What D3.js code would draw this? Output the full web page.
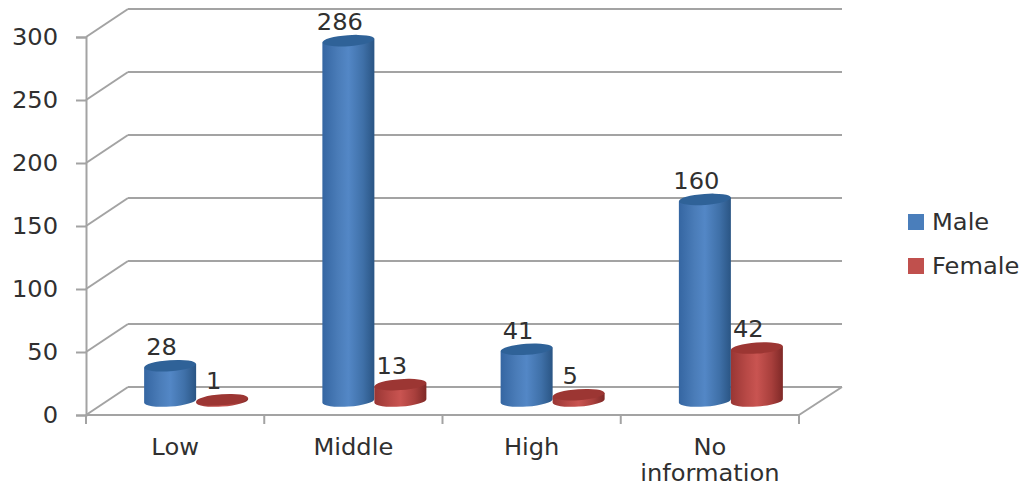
<!DOCTYPE html>
<html>
<head>
<meta charset="utf-8">
<script src="https://cdn.jsdelivr.net/npm/d3@7/dist/d3.min.js"></script>
<style>
  html, body { margin: 0; padding: 0; background: #fff; }
  svg { display: block; }
  text { font-family: "DejaVu Sans", sans-serif; fill: #303030; }
</style>
</head>
<body>
<svg id="chart" width="1022" height="487"></svg>
<script>
const categories = ["Low", "Middle", "High", "No information"];
const seriesNames = ["Male", "Female"];
const maleValues = [28, 286, 41, 160];
const femaleValues = [1, 13, 5, 42];
const yTicks = [0, 50, 100, 150, 200, 250, 300];

const svg = d3.select("#chart");
const gridColor = "#a3a3a3";
const fontSize = 23;
const textWiden = 1.05;

// Front plane of the 3-D box and the depth offset to its back wall.
const plotLeft = 86, plotRight = 799, plotBottom = 415, plotTop = 37;
const depthX = 42, depthY = -28;

const y = d3.scaleLinear().domain([0, 300]).range([plotBottom, plotTop]);
const x = d3.scaleBand().domain(categories).range([plotLeft, plotRight]);
const inner = d3.scaleBand().domain(seriesNames).range([0, 104]);

// Cylinder gradients, dark at the edges and light through the middle.
const defs = svg.append("defs");
const palettes = {
  Male: { stops: ["#3566a2", "#4a7cb8", "#5387c6", "#3f70a8", "#2a5584"], cap: "#2f6298", swatch: "#4a7ebb" },
  Female: { stops: ["#993634", "#b84946", "#c95451", "#a83f3c", "#7f2927"], cap: "#9c3633", swatch: "#c0504d" }
};
seriesNames.forEach(name => {
  const g = defs.append("linearGradient").attr("id", "grad-" + name);
  palettes[name].stops.forEach((c, i) => {
    g.append("stop").attr("offset", [0, 0.3, 0.5, 0.78, 1][i]).attr("stop-color", c);
  });
});

// Back wall gridlines, side wall diagonals and the floor.
const walls = svg.append("g").attr("fill", "none").attr("stroke", gridColor).attr("stroke-width", 2);
walls.selectAll(".grid").data(yTicks).join("line").attr("class", "grid")
  .attr("x1", plotLeft + depthX).attr("x2", plotRight + depthX + 1)
  .attr("y1", d => y(d) + depthY).attr("y2", d => y(d) + depthY);
walls.selectAll(".side").data(yTicks).join("line").attr("class", "side")
  .attr("x1", plotLeft).attr("x2", plotLeft + depthX)
  .attr("y1", d => y(d)).attr("y2", d => y(d) + depthY);
walls.append("line")
  .attr("x1", plotRight).attr("y1", plotBottom)
  .attr("x2", plotRight + depthX + 1).attr("y2", plotBottom + depthY);

// Value axis
const yAxis = svg.append("g").attr("transform", `translate(${plotLeft},0)`)
  .call(d3.axisLeft(y).tickValues(yTicks).tickSize(10).tickPadding(18));
yAxis.selectAll("path, line").attr("stroke", gridColor).attr("stroke-width", 2);
yAxis.selectAll("text").attr("font-size", fontSize).attr("font-family", '"DejaVu Sans", sans-serif').attr("dy", "0.34em");

// Category axis: ticks fall on the band boundaries, labels in the band centres.
const xAxis = svg.append("g").attr("transform", `translate(0,${plotBottom})`)
  .call(d3.axisBottom(x).tickSize(0).tickPadding(0));
xAxis.select("path").attr("stroke", gridColor).attr("stroke-width", 2).attr("d", `M${plotLeft},0H${plotRight}`);
xAxis.selectAll(".tick text")
  .attr("font-size", fontSize).attr("font-family", '"DejaVu Sans", sans-serif').attr("dy", null)
  .each(function (d) {
    const words = d.length > 8 ? d.split(" ") : [d];
    const t = d3.select(this).text(null).attr("y", 0);
    words.forEach((w, i) => t.append("tspan").attr("x", 0).attr("y", 40 + i * 26).text(w));
  });
xAxis.selectAll(".tick line").remove();
const boundaries = categories.map(c => x(c)).concat([plotRight]);
xAxis.selectAll(".boundary").data(boundaries).join("line").attr("class", "boundary")
  .attr("x1", d => d).attr("x2", d => d).attr("y1", 0).attr("y2", 9)
  .attr("stroke", gridColor).attr("stroke-width", 2);

// Cylinders stand on the mid-depth plane of the floor.
const rx = inner.bandwidth() / 2, ry = 5.5, tilt = -4;
const baseShift = depthY / 2;
const tiltDy = rx * Math.sin(-tilt * Math.PI / 180);
const rows = [];
categories.forEach((c, i) => {
  rows.push({ cat: c, series: "Male", value: maleValues[i] });
  rows.push({ cat: c, series: "Female", value: femaleValues[i] });
});
const centre = d => x(d.cat) + x.bandwidth() / 2 - 52 + depthX / 2 + inner(d.series) + rx;

const bars = svg.append("g").selectAll("g").data(rows).join("g");
bars.append("path")
  .attr("fill", d => `url(#grad-${d.series})`)
  .attr("d", d => {
    const c = centre(d), b = plotBottom + baseShift, t = y(d.value) + baseShift;
    return `M${c - rx},${t + tiltDy}L${c - rx},${b + tiltDy}` +
      `A${rx},${ry} ${tilt} 0 0 ${c + rx},${b - tiltDy}L${c + rx},${t - tiltDy}Z`;
  });
bars.append("ellipse")
  .attr("rx", rx).attr("ry", ry)
  .attr("fill", d => palettes[d.series].cap)
  .attr("transform", d => `translate(${centre(d)},${y(d.value) + baseShift}) rotate(${tilt})`);

// Value labels sit just above and left of each cap.
svg.append("g").selectAll("text").data(rows).join("text")
  .attr("x", d => centre(d) - 8.5)
  .attr("y", d => y(d.value) + baseShift - 19)
  .attr("dy", "0.36em")
  .attr("text-anchor", "middle")
  .attr("font-size", fontSize)
  .text(d => d.value);

// Legend
const legendY = d3.scalePoint().domain(seriesNames).range([222, 266]);
const legend = svg.append("g").selectAll("g").data(seriesNames).join("g")
  .attr("transform", d => `translate(908,${legendY(d)})`);
legend.append("rect").attr("x", 0).attr("y", -8).attr("width", 16).attr("height", 16)
  .attr("fill", d => palettes[d].swatch);
legend.append("text").attr("x", 24).attr("dy", "0.36em").attr("font-size", fontSize).text(d => d);

// All lettering is set slightly wider than the face's natural proportions.
svg.selectAll("text").each(function () {
  const targets = this.querySelector("tspan") ? this.querySelectorAll("tspan") : [this];
  targets.forEach(el => {
    el.setAttribute("textLength", el.getComputedTextLength() * textWiden);
    el.setAttribute("lengthAdjust", "spacingAndGlyphs");
  });
});
</script>
</body>
</html>
